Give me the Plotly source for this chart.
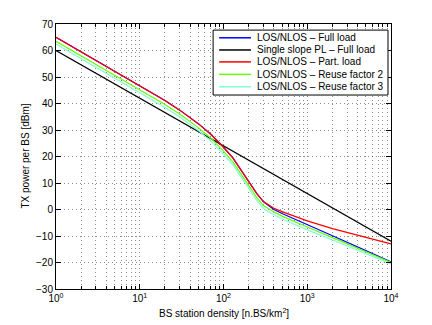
import plotly.graph_objects as go

# BS density [n.BS/km^2]
density = [1, 5, 10, 15, 20, 30, 40, 50, 70, 100, 130, 170, 200, 250, 300, 350, 400, 500, 700, 1000, 2000, 5000, 10000]

# TX power per BS [dBm]
full_load = [65, 52.3, 46.8, 43.5, 41.1, 37.5, 34.7, 32.4, 28.5, 23.5, 19.4, 14, 10.6, 6, 2.9, 1.2, 0, -1.5, -3.6, -5.7, -9.9, -15.5, -19.8]
single_slope = [60, 47.4, 42, 38.8, 36.6, 33.4, 31.2, 29.4, 26.8, 24, 22, 19.9, 18.6, 16.8, 15.4, 14.2, 13.2, 11.4, 8.8, 6, 0.6, -6.6, -12]
part_load = [65, 52.3, 46.8, 43.5, 41.1, 37.5, 34.7, 32.4, 28.5, 23.5, 19.4, 14, 10.6, 6, 3, 1.5, 0.5, -0.8, -2.5, -4.3, -7.2, -10.5, -13]
reuse_2 = [63.5, 50.8, 45.3, 42, 39.6, 36, 33.2, 30.9, 27, 22, 17.9, 12.5, 9.1, 4.5, 1.5, 0.1, -0.9, -2.5, -4.6, -6.6, -10.6, -16, -20]
reuse_3 = [62.4, 49.7, 44.2, 40.9, 38.5, 34.9, 32.1, 29.8, 25.9, 20.9, 16.8, 11.4, 8, 3.4, 0.4, -1, -2, -3.6, -5.7, -7.7, -11.5, -16.6, -20.5]

x_ticks = [1, 10, 100, 1000, 10000]
x_ticktext = ['10<sup>0</sup>', '10<sup>1</sup>', '10<sup>2</sup>', '10<sup>3</sup>', '10<sup>4</sup>']
x_minor = [m * 10 ** e for e in range(4) for m in range(2, 10)]

series = [
    ('LOS/NLOS – Full load', full_load, 'rgb(0,0,255)'),
    ('Single slope PL – Full load', single_slope, 'rgb(0,0,0)'),
    ('LOS/NLOS – Part. load', part_load, 'rgb(255,0,0)'),
    ('LOS/NLOS – Reuse factor 2', reuse_2, 'rgb(102,255,0)'),
    ('LOS/NLOS – Reuse factor 3', reuse_3, 'rgb(127,255,212)'),
]

fig = go.Figure()
for name, vals, col in series:
    fig.add_trace(go.Scatter(x=density, y=vals, mode='lines', name=name, showlegend=False,
                             line=dict(color=col, width=1.2)))

# matlab style legend box, drawn by hand so rows can be tight
fig.add_shape(type='rect', xref='paper', yref='paper', x0=0.469, x1=0.991, y0=0.732, y1=0.977,
              line=dict(color='black', width=1), fillcolor='white', layer='above')
row_y = [0.948, 0.902, 0.857, 0.810, 0.763]
for (name, vals, col), ry in zip(series, row_y):
    fig.add_shape(type='line', xref='paper', yref='paper', x0=0.487, x1=0.582, y0=ry, y1=ry,
                  line=dict(color=col, width=1.5), layer='above')
    fig.add_annotation(text=name, xref='paper', yref='paper', x=0.594, y=ry,
                       xanchor='left', yanchor='middle', showarrow=False, font=dict(size=10))

# axis titles as annotations (positions like matlab defaults)
fig.add_annotation(text='BS station density [n.BS/km<sup>2</sup>]', xref='paper', yref='paper',
                   x=0.5, y=-0.09, xanchor='center', yanchor='middle', showarrow=False)
fig.add_annotation(text='TX power per BS [dBm]', xref='paper', yref='paper', textangle=-90,
                   x=-0.0925, y=0.5, xanchor='center', yanchor='middle', showarrow=False)

grid = dict(showgrid=True, gridcolor='rgba(0,0,0,0.45)', griddash='1px,3px', gridwidth=1)
fig.update_xaxes(type='log', range=[0, 4], tickvals=x_ticks, ticktext=x_ticktext,
                 ticks='inside', ticklen=5, tickcolor='black', mirror='ticks',
                 showline=True, linecolor='black', linewidth=1, zeroline=False,
                 minor=dict(tickvals=x_minor, ticks='inside', ticklen=3, tickcolor='black', **grid),
                 automargin=False, **grid)
fig.update_yaxes(range=[-30, 70], dtick=10, ticks='inside', ticklen=5, tickcolor='black',
                 mirror='ticks', showline=True, linecolor='black', linewidth=1, zeroline=False,
                 automargin=False, **grid)

# page body has an 8px margin, so the figure is 8px smaller and the margins shifted
fig.update_layout(
    width=424, height=317,
    margin=dict(l=48, r=41, t=16, b=36),
    paper_bgcolor='white', plot_bgcolor='white',
    font=dict(family='Liberation Sans, Arial, sans-serif', size=10, color='black'),
)

fig.write_html("out.html")
